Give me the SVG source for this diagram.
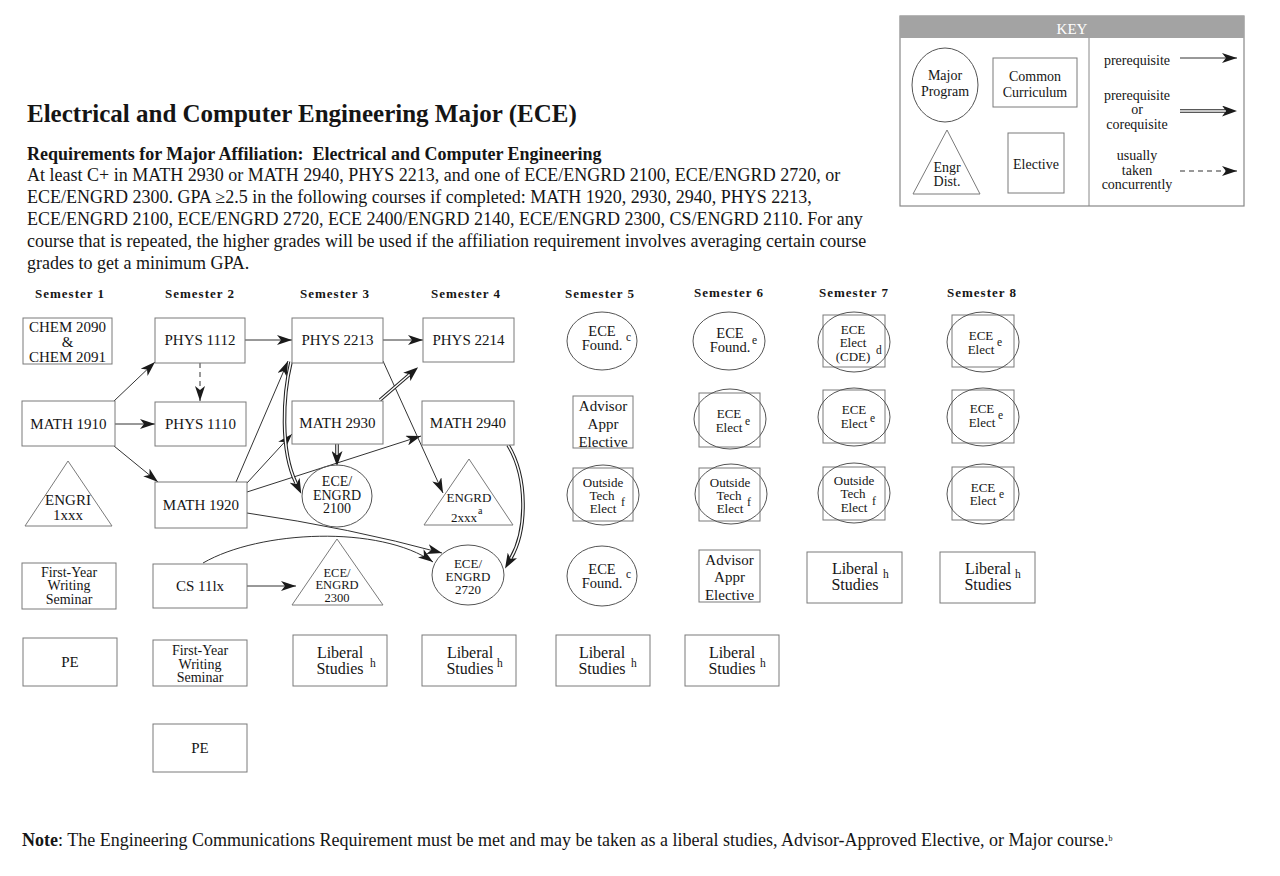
<svg xmlns="http://www.w3.org/2000/svg" width="1280" height="876" viewBox="0 0 1280 876">
<style>
text{font-family:"Liberation Serif","Times New Roman",serif;fill:#151515}
.t15{font-size:15px;text-anchor:middle}
.t145{font-size:14.5px;text-anchor:middle}
.t14{font-size:14px;text-anchor:middle}
.t13{font-size:13px;text-anchor:middle}
.t125{font-size:12.5px;text-anchor:middle}
.t16{font-size:16px;text-anchor:middle}
.sup{font-size:11.5px}
.sem{font-size:13px;font-weight:bold;text-anchor:middle;letter-spacing:1px}
.box{fill:#fff;stroke:#7a7a7a;stroke-width:1}
.shape{fill:none;stroke:#7a7a7a;stroke-width:1}
.ell{fill:none;stroke:#555;stroke-width:1}
.arr{fill:none;stroke:#333;stroke-width:1;marker-end:url(#ah)}
.dash{fill:none;stroke:#333;stroke-width:1;stroke-dasharray:5 4;marker-end:url(#ah)}
.dblo{fill:none;stroke:#222;stroke-width:3.6;marker-end:url(#ahd)}
.dbli{fill:none;stroke:#fff;stroke-width:1.5}
</style>
<defs>
<marker id="ah" markerUnits="userSpaceOnUse" markerWidth="15" markerHeight="10" refX="15" refY="5" orient="auto" viewBox="0 0 15 10">
<path d="M0,0 L15,5 L0,10 L4,5 z" fill="#1a1a1a"/>
</marker>
<marker id="ahd" markerUnits="userSpaceOnUse" markerWidth="15" markerHeight="11" refX="3" refY="5.5" orient="auto" viewBox="0 0 15 11">
<path d="M0,0 L15,5.5 L0,11 L4,5.5 z" fill="#1a1a1a"/>
</marker>
</defs>
<rect width="1280" height="876" fill="#fff"/>

<g id="header">
<text x="27" y="122" style="font-size:25px;font-weight:bold">Electrical and Computer Engineering Major (ECE)</text>
<text x="27" y="160" style="font-size:18px;font-weight:bold" xml:space="preserve">Requirements for Major Affiliation:  Electrical and Computer Engineering</text>
<g style="font-size:18px">
<text x="27" y="181">At least C+ in MATH 2930 or MATH 2940, PHYS 2213, and one of ECE/ENGRD 2100, ECE/ENGRD 2720, or</text>
<text x="27" y="203">ECE/ENGRD 2300. GPA ≥2.5 in the following courses if completed: MATH 1920, 2930, 2940, PHYS 2213,</text>
<text x="27" y="225">ECE/ENGRD 2100, ECE/ENGRD 2720, ECE 2400/ENGRD 2140, ECE/ENGRD 2300, CS/ENGRD 2110. For any</text>
<text x="27" y="247">course that is repeated, the higher grades will be used if the affiliation requirement involves averaging certain course</text>
<text x="27" y="269">grades to get a minimum GPA.</text>
</g>
</g>

<g id="key">
<rect x="900" y="16" width="344" height="190" fill="#fff" stroke="#888" stroke-width="1.2"/>
<rect x="900" y="16" width="344" height="22" fill="#a3a3a3"/>
<text x="1072" y="34" style="font-size:15px;text-anchor:middle;fill:#fff">KEY</text>
<line x1="1089" y1="38" x2="1089" y2="206" stroke="#888" stroke-width="1"/>
<ellipse cx="945" cy="85" rx="33" ry="37" class="ell"/>
<text x="945" y="80" class="t14">Major</text>
<text x="945" y="96" class="t14">Program</text>
<rect x="993" y="58" width="84" height="49" class="box"/>
<text x="1035" y="81" class="t14">Common</text>
<text x="1035" y="97" class="t14">Curriculum</text>
<polygon points="947,130 980,194 913,194" class="shape"/>
<text x="947" y="172" class="t14">Engr</text>
<text x="947" y="186" class="t14">Dist.</text>
<rect x="1008" y="133" width="56" height="60" class="box"/>
<text x="1036" y="169" class="t14">Elective</text>
<text x="1137" y="65" class="t14">prerequisite</text>
<text x="1137" y="100" class="t14">prerequisite</text>
<text x="1137" y="114" class="t14">or</text>
<text x="1137" y="129" class="t14">corequisite</text>
<text x="1137" y="160" class="t14">usually</text>
<text x="1137" y="175" class="t14">taken</text>
<text x="1137" y="189" class="t14">concurrently</text>
<path d="M1180,58 L1237,58" class="arr"/>
<path d="M1180,111 L1225,111" class="dblo"/>
<path d="M1180,111 L1225,111" class="dbli"/>
<path d="M1180,171 L1237,171" class="dash"/>
</g>

<g id="semesters">
<text x="70" y="298" class="sem">Semester 1</text>
<text x="200" y="298" class="sem">Semester 2</text>
<text x="335" y="298" class="sem">Semester 3</text>
<text x="466" y="298" class="sem">Semester 4</text>
<text x="600" y="298" class="sem">Semester 5</text>
<text x="729" y="297" class="sem">Semester 6</text>
<text x="854" y="297" class="sem">Semester 7</text>
<text x="982" y="297" class="sem">Semester 8</text>
</g>

<g id="connectors">
<path d="M114,401 L155,362" class="arr"/>
<path d="M115,424 L155,424" class="arr"/>
<path d="M114,446 L158,482" class="arr"/>
<path d="M200,363 L200,401" class="dash"/>
<path d="M245,340 L292,340" class="arr"/>
<path d="M236,482 L288,361" class="arr"/>
<path d="M247,483 L292,434" class="arr"/>
<path d="M247,492 L421,436" class="arr"/>
<path d="M247,513 Q350,528 442,553" class="arr"/>
<path d="M247,586 L296,586" class="arr"/>
<path d="M203,563 C260,530 380,525 433,562" class="arr"/>
<path d="M383,340 L423,340" class="arr"/>
<path d="M383,361 L443,493" class="arr"/>
<path d="M380,400 L409,375" class="dblo"/>
<path d="M380,400 L409,375" class="dbli"/>
<path d="M337,444 L337,454" class="dblo"/>
<path d="M337,444 L337,454" class="dbli"/>
<path d="M291,362 C283,395 280,450 296,483" class="dblo"/>
<path d="M291,362 C283,395 280,450 296,483" class="dbli"/>
<path d="M508,445 C528,478 527,530 511,558" class="dblo"/>
<path d="M508,445 C528,478 527,530 511,558" class="dbli"/>
</g>

<g id="n_chem"><rect x="23" y="318" width="89" height="46" class="box"/>
<text x="67.5" y="332" class="t15">CHEM 2090</text><text x="67.5" y="347" class="t15">&amp;</text><text x="67.5" y="362" class="t15">CHEM 2091</text></g>
<g id="n_math1910"><rect x="22" y="401" width="93" height="45" class="box"/><text x="68.5" y="429" class="t15">MATH 1910</text></g>
<g id="n_engri"><polygon points="68,461 112,526 25,526" class="shape"/><text x="68" y="505" class="t15">ENGRI</text><text x="68" y="520" class="t15">1xxx</text></g>
<g id="n_fyws1"><rect x="22" y="563" width="94" height="46" class="box"/>
<text x="69" y="577" class="t14">First-Year</text><text x="69" y="590" class="t14">Writing</text><text x="69" y="604" class="t14">Seminar</text></g>
<g id="n_pe1"><rect x="23" y="638" width="94" height="48" class="box"/><text x="70" y="667" class="t15">PE</text></g>

<g id="n_phys1112"><rect x="155" y="318" width="90" height="45" class="box"/><text x="200" y="345" class="t15">PHYS 1112</text></g>
<g id="n_phys1110"><rect x="155" y="402" width="91" height="44" class="box"/><text x="200.5" y="429" class="t15">PHYS 1110</text></g>
<g id="n_math1920"><rect x="155" y="482" width="92" height="46" class="box"/><text x="201" y="510" class="t15">MATH 1920</text></g>
<g id="n_cs11lx"><rect x="153" y="564" width="94" height="44" class="box"/><text x="200" y="591" class="t15">CS 11lx</text></g>
<g id="n_fyws2"><rect x="153" y="640" width="94" height="46" class="box"/>
<text x="200" y="655" class="t14">First-Year</text><text x="200" y="669" class="t14">Writing</text><text x="200" y="682" class="t14">Seminar</text></g>
<g id="n_pe2"><rect x="153" y="724" width="94" height="48" class="box"/><text x="200" y="753" class="t15">PE</text></g>

<g id="n_phys2213"><rect x="292" y="318" width="91" height="45" class="box"/><text x="337.5" y="345" class="t15">PHYS 2213</text></g>
<g id="n_math2930"><rect x="292" y="401" width="91" height="43" class="box"/><text x="337.5" y="428" class="t15">MATH 2930</text></g>
<g id="n_ece2100"><ellipse cx="337" cy="496" rx="35" ry="31" class="ell"/>
<text x="337" y="486" class="t14">ECE/</text><text x="337" y="500" class="t14">ENGRD</text><text x="337" y="513" class="t14">2100</text></g>
<g id="n_ece2300"><polygon points="337,539 383,605 292,605" class="shape"/>
<text x="337" y="576.5" class="t125">ECE/</text><text x="337" y="589" class="t125">ENGRD</text><text x="337" y="601.5" class="t125">2300</text></g>
<g id="n_lib3"><rect x="293" y="635" width="94" height="51" class="box"/>
<text x="340" y="658" class="t16">Liberal</text><text x="340" y="674" class="t16">Studies</text><text x="370" y="667" class="sup">h</text></g>

<g id="n_phys2214"><rect x="423" y="318" width="91" height="44" class="box"/><text x="468.5" y="345" class="t15">PHYS 2214</text></g>
<g id="n_math2940"><rect x="422" y="401" width="92" height="44" class="box"/><text x="468" y="428" class="t15">MATH 2940</text></g>
<g id="n_engrd2xxx"><polygon points="469,459 513,525 424,525" class="shape"/>
<text x="469" y="502" class="t13">ENGRD</text><text x="464" y="522" class="t13">2xxx</text><text x="478" y="514" style="font-size:10px">a</text></g>
<g id="n_ece2720"><ellipse cx="468" cy="575" rx="36" ry="30" class="ell"/>
<text x="468" y="568" class="t13">ECE/</text><text x="468" y="581" class="t13">ENGRD</text><text x="468" y="594" class="t13">2720</text></g>
<g id="n_lib4"><rect x="422" y="635" width="94" height="51" class="box"/>
<text x="470" y="658" class="t16">Liberal</text><text x="470" y="674" class="t16">Studies</text><text x="497" y="667" class="sup">h</text></g>

<g id="n_found5a"><ellipse cx="602" cy="341" rx="35" ry="29" class="ell"/>
<text x="602" y="336" class="t145">ECE</text><text x="602" y="350" class="t145">Found.</text><text x="626" y="341" class="sup">c</text></g>
<g id="n_adv5"><rect x="573" y="396" width="60" height="52" class="box"/>
<text x="603" y="411" class="t15">Advisor</text><text x="603" y="429" class="t15">Appr</text><text x="603" y="447" class="t15">Elective</text></g>
<g id="n_ote5"><rect x="573" y="468" width="60" height="53" class="box"/><ellipse cx="603" cy="495" rx="36" ry="30" class="ell"/>
<text x="603" y="487" class="t13">Outside</text><text x="602" y="500" class="t13">Tech</text><text x="603" y="513" class="t13">Elect</text><text x="621" y="506" style="font-size:12px">f</text></g>
<g id="n_found5b"><ellipse cx="602" cy="576" rx="35" ry="30" class="ell"/>
<text x="602" y="574" class="t145">ECE</text><text x="602" y="588" class="t145">Found.</text><text x="626" y="578" class="sup">c</text></g>
<g id="n_lib5"><rect x="556" y="635" width="94" height="51" class="box"/>
<text x="602" y="658" class="t16">Liberal</text><text x="602" y="674" class="t16">Studies</text><text x="631" y="667" class="sup">h</text></g>

<g id="n_found6"><ellipse cx="729" cy="341" rx="36" ry="29" class="ell"/>
<text x="730" y="338" class="t145">ECE</text><text x="730" y="352" class="t145">Found.</text><text x="752" y="344" class="sup">e</text></g>
<g id="n_elect6"><rect x="699" y="393" width="61" height="54" class="box"/><ellipse cx="730" cy="419" rx="36" ry="30" class="ell"/>
<text x="729" y="418" class="t13">ECE</text><text x="729" y="432" class="t13">Elect</text><text x="745" y="425" class="sup">e</text></g>
<g id="n_ote6"><rect x="699" y="468" width="61" height="53" class="box"/><ellipse cx="731" cy="494" rx="36" ry="30" class="ell"/>
<text x="730" y="487" class="t13">Outside</text><text x="729" y="500" class="t13">Tech</text><text x="730" y="513" class="t13">Elect</text><text x="747" y="506" style="font-size:12px">f</text></g>
<g id="n_adv6"><rect x="699" y="550" width="61" height="52" class="box"/>
<text x="729.5" y="565" class="t15">Advisor</text><text x="729.5" y="582" class="t15">Appr</text><text x="729.5" y="600" class="t15">Elective</text></g>
<g id="n_lib6"><rect x="685" y="635" width="94" height="51" class="box"/>
<text x="732" y="658" class="t16">Liberal</text><text x="732" y="674" class="t16">Studies</text><text x="760" y="667" class="sup">h</text></g>

<g id="n_cde7"><rect x="823" y="315" width="62" height="52" class="box"/><ellipse cx="854" cy="342" rx="36" ry="30" class="ell"/>
<text x="853" y="334" class="t13">ECE</text><text x="853" y="347" class="t13">Elect</text><text x="853" y="361" class="t13">(CDE)</text><text x="876" y="354" class="sup">d</text></g>
<g id="n_elect7"><rect x="823" y="390" width="62" height="53" class="box"/><ellipse cx="854" cy="417" rx="36" ry="29" class="ell"/>
<text x="854" y="414" class="t13">ECE</text><text x="854" y="428" class="t13">Elect</text><text x="870" y="422" class="sup">e</text></g>
<g id="n_ote7"><rect x="823" y="467" width="62" height="53" class="box"/><ellipse cx="854" cy="493" rx="36" ry="30" class="ell"/>
<text x="854" y="485" class="t13">Outside</text><text x="853" y="498" class="t13">Tech</text><text x="854" y="512" class="t13">Elect</text><text x="872" y="505" style="font-size:12px">f</text></g>
<g id="n_lib7"><rect x="807" y="552" width="95" height="51" class="box"/>
<text x="855" y="574" class="t16">Liberal</text><text x="855" y="590" class="t16">Studies</text><text x="883" y="578" class="sup">h</text></g>

<g id="n_e8a"><rect x="952" y="315" width="62" height="52" class="box"/><ellipse cx="983" cy="342" rx="36" ry="30" class="ell"/>
<text x="981" y="340" class="t13">ECE</text><text x="981" y="354" class="t13">Elect</text><text x="997" y="346" class="sup">e</text></g>
<g id="n_e8b"><rect x="952" y="390" width="62" height="53" class="box"/><ellipse cx="983" cy="417" rx="36" ry="29" class="ell"/>
<text x="982" y="413" class="t13">ECE</text><text x="982" y="427" class="t13">Elect</text><text x="998" y="419" class="sup">e</text></g>
<g id="n_e8c"><rect x="952" y="467" width="62" height="53" class="box"/><ellipse cx="983" cy="494" rx="36" ry="30" class="ell"/>
<text x="983" y="492" class="t13">ECE</text><text x="983" y="505" class="t13">Elect</text><text x="999" y="498" class="sup">e</text></g>
<g id="n_lib8"><rect x="940" y="552" width="95" height="51" class="box"/>
<text x="988" y="574" class="t16">Liberal</text><text x="988" y="590" class="t16">Studies</text><text x="1015" y="578" class="sup">h</text></g>

<g id="note">
<text x="22" y="846" style="font-size:18px"><tspan style="font-weight:bold">Note</tspan>: The Engineering Communications Requirement must be met and may be taken as a liberal studies, Advisor-Approved Elective, or Major course.<tspan style="font-size:8px" dy="-5">b</tspan></text>
</g>
</svg>
